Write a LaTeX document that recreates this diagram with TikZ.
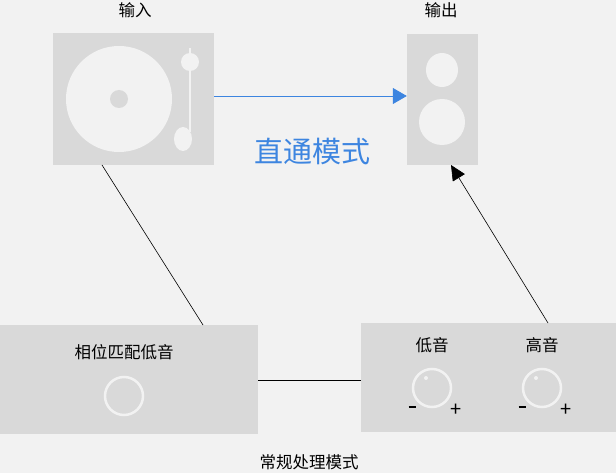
\documentclass[tikz,border=0pt]{standalone}
\usepackage{fontspec}
\newfontfamily\cjk{Noto Sans CJK SC}
\usetikzlibrary{arrows.meta}
\definecolor{bg}{HTML}{F2F2F2}
\definecolor{boxc}{HTML}{D9D9D9}
\definecolor{blu}{HTML}{3D85E0}
\tikzset{box/.style={fill=boxc,draw=none},
 lbl/.style={font=\cjk\fontsize{16.5}{18}\selectfont,text=black},
 pmsign/.style={font=\cjk\fontsize{20}{22}\selectfont,text=black},
 knob/.style={draw=bg,line width=2.5pt,fill=none,circle,minimum size=38pt,inner sep=0pt}}
\begin{document}
\begin{tikzpicture}[x=1pt,y=-1pt]
\fill[bg] (0,0) rectangle (616,473);
\useasboundingbox (0,0) rectangle (616,473);
% turntable
\node[box,minimum width=161pt,minimum height=132pt,inner sep=0pt] (tt) at (133.5,99) {};
\fill[bg] (119,99) ellipse (53 and 53);
\fill[boxc] (119,99) circle (9);
\draw[bg,line width=2pt] (190,48) -- (190,132);
\fill[bg] (190,62) ellipse (9 and 9);
\fill[bg] (183,139) ellipse (9 and 12);
% speaker
\node[box,minimum width=71pt,minimum height=131pt,inner sep=0pt] (sp) at (442.5,99.5) {};
\fill[bg] (442,70) ellipse (16 and 17);
\fill[bg] (442,122) ellipse (23 and 23);
\node[lbl] (in) at (135,10) {输入};
\node[lbl] (out) at (441,10) {输出};
\draw[blu,line width=0.8pt,-{Triangle[length=14pt,width=16pt]}] (tt.east |- 0,96) -- (sp.west |- 0,96);
\node[font=\cjk\fontsize{29}{32}\selectfont,text=blu] (direct) at (312,151) {直通模式};
% bottom boxes
\node[box,minimum width=258pt,minimum height=109pt,inner sep=0pt] (pm) at (129,379.5) {};
\node[lbl] (pmt) at (124,352) {相位匹配低音};
\node[knob] (k0) at (124,396) {};
\node[box,minimum width=255pt,minimum height=109pt,inner sep=0pt] (eq) at (488.5,377.5) {};
\node[lbl] (bass) at (432,345) {低音};
\node[lbl] (treb) at (542,345) {高音};
\node[knob] (k1) at (432,388) {};
\node[knob] (k2) at (542,388) {};
\fill[bg] (426,378) circle (2);
\fill[bg] (536,378) circle (2);
\node[pmsign] (m1) at (412,410) {\rule[0.5ex]{7pt}{1.6pt}};
\node[pmsign] (p1) at (456,410) {+};
\node[pmsign] (m2) at (522,410) {\rule[0.5ex]{7pt}{1.6pt}};
\node[pmsign] (p2) at (566,410) {+};
\node[lbl] (norm) at (309,462) {常规处理模式};
% connectors
\coordinate (a1) at (102,165);
\coordinate (a2) at (203,325);
\draw[black,line width=0.6pt] (a1) -- (a2);
\draw[black,line width=0.6pt] (pm.east |- 0,380) -- (eq.west |- 0,380);
\coordinate (b1) at (548,323);
\coordinate (b2) at (451,165);
\draw[black,line width=0.6pt,-{Triangle[length=15pt,width=14pt]}] (b1) -- (b2);
\end{tikzpicture}
\end{document}
